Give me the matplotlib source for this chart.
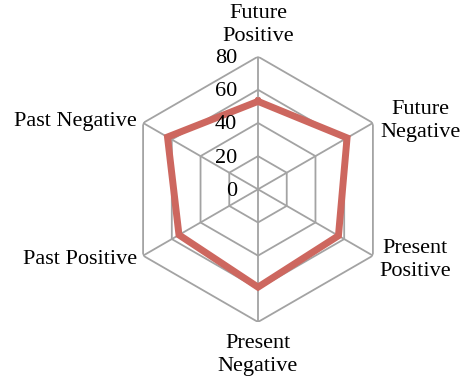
import numpy as np
import matplotlib
matplotlib.use("Agg")
import matplotlib.pyplot as plt

categories = ["Future\nPositive", "Future\nNegative", "Present\nPositive",
              "Present\nNegative", "Past Positive", "Past Negative"]
values = [53, 62, 56, 59, 55, 63]
rticks = [0, 20, 40, 60, 80]

plt.rcParams['font.family'] = ['Liberation Serif', 'DejaVu Serif']

W, H = 470, 383
fig = plt.figure(figsize=(W / 100, H / 100), dpi=100)
cx, cy, R = 258, 189.3, 132.7
ax = fig.add_axes([(cx - R) / W, (H - cy - R) / H, 2 * R / W, 2 * R / H], projection='polar')
ax.set_theta_offset(np.pi / 2)
ax.set_theta_direction(-1)
ax.set_ylim(0, 80)
ax.axis('off')

n = len(categories)
angles = np.arange(n) * 2 * np.pi / n
closed = np.append(angles, angles[0])

grid_color = '#A3A3A3'
for r in rticks[1:]:
    ax.plot(closed, [r] * (n + 1), color=grid_color, lw=1.3, zorder=1)
for a in angles:
    ax.plot([a, a], [0, rticks[-1]], color=grid_color, lw=1.3, zorder=1)

ax.plot(closed, values + values[:1], color='#CD675F', lw=5, zorder=3,
        solid_joinstyle='miter')

px = 0.72
fs = 16
for r in rticks:
    ax.annotate(str(r), xy=(0, r), xytext=(-21 * px, -2 * px), textcoords='offset points',
                ha='right', va='center', fontsize=fs, color='#000000')

offsets = [(0, 32, 'center'), (7, 2, 'left'), (6, -4, 'left'),
           (0, -33, 'center'), (-6, -4, 'right'), (-6, 1, 'right')]
for a, lab, (dx, dy, ha) in zip(angles, categories, offsets):
    ax.annotate(lab, xy=(a, rticks[-1]), xytext=(dx * px, dy * px), textcoords='offset points',
                ha=ha, va='center', multialignment='center', fontsize=fs,
                linespacing=1.3, annotation_clip=False)

fig.savefig('out.png', dpi=100)
